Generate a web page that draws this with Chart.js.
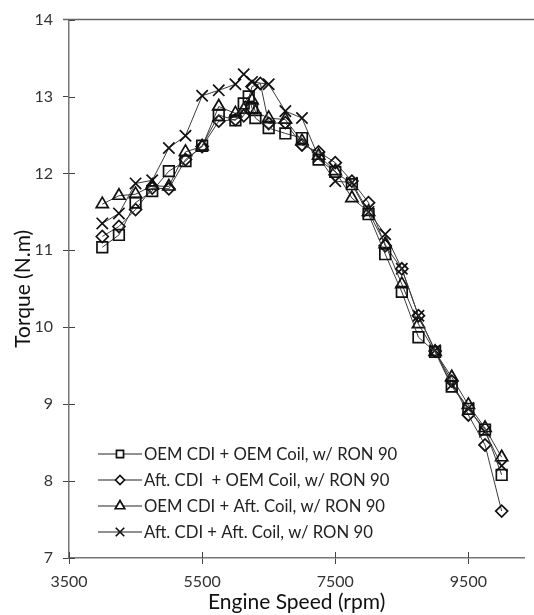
<!DOCTYPE html>
<html lang="en">
<head>
    <meta charset="UTF-8">
    <title>Torque vs Engine Speed</title>
    <script src="https://cdn.jsdelivr.net/npm/chart.js"></script>
    <style>
        html, body { margin: 0; padding: 0; background: #fff; }
        #wrap { width: 534px; height: 615px; }
    </style>
</head>
<body>
    <div id="wrap"><canvas id="torqueChart" width="534" height="615"></canvas></div>

    <script>
        // engine speed (rpm) for each series
        const rpmSquare = [4000, 4250, 4500, 4750, 5000, 5250, 5500, 5750, 6000, 6125, 6200, 6250, 6300, 6500, 6750, 7000, 7250, 7500, 7750, 8000, 8250, 8500, 8750, 9000, 9250, 9500, 9750, 10000];
        const rpmDiamond = [4000, 4250, 4500, 4750, 5000, 5250, 5500, 5750, 6000, 6125, 6250, 6375, 6500, 6750, 7000, 7250, 7500, 7750, 8000, 8250, 8500, 8750, 9000, 9250, 9500, 9750, 10000];
        const rpmTriangle = [4000, 4250, 4500, 4750, 5000, 5250, 5500, 5750, 6000, 6125, 6250, 6300, 6500, 6750, 7000, 7250, 7500, 7750, 8000, 8250, 8500, 8750, 9000, 9250, 9500, 9750, 10000];
        const rpmCross = [4000, 4250, 4500, 4750, 5000, 5250, 5500, 5750, 6000, 6125, 6250, 6500, 6750, 7000, 7250, 7500, 7750, 8000, 8250, 8500, 8750, 9000, 9250, 9500, 9750, 10000];

        // torque (N.m)
        const torqueOemOem = [11.04, 11.20, 11.62, 11.77, 12.03, 12.16, 12.36, 12.76, 12.69, 12.91, 13.00, 12.85, 12.72, 12.59, 12.52, 12.46, 12.18, 12.02, 11.86, 11.47, 10.95, 10.46, 9.87, 9.68, 9.23, 8.94, 8.67, 8.08];
        const torqueAftOem = [11.18, 11.31, 11.53, 11.81, 11.80, 12.18, 12.35, 12.68, 12.70, 12.75, 13.13, 13.17, 12.65, 12.66, 12.37, 12.28, 12.14, 11.90, 11.62, 11.06, 10.76, 10.15, 9.69, 9.30, 8.86, 8.47, 7.61];
        const torqueOemAft = [11.60, 11.71, 11.73, 11.84, 11.83, 12.28, 12.35, 12.87, 12.78, 12.83, 12.95, 12.80, 12.72, 12.70, 12.42, 12.23, 12.03, 11.68, 11.50, 11.08, 10.56, 10.04, 9.68, 9.35, 8.99, 8.69, 8.31];
        const torqueAftAft = [11.35, 11.48, 11.87, 11.91, 12.33, 12.49, 13.01, 13.08, 13.16, 13.29, 13.19, 13.16, 12.81, 12.72, 12.21, 11.90, 11.88, 11.50, 11.21, 10.76, 10.15, 9.70, 9.25, 8.95, 8.64, 8.20];

        const seriesLabels = [
            'OEM CDI + OEM Coil, w/ RON 90',
            'Aft. CDI  + OEM Coil, w/ RON 90',
            'OEM CDI + Aft. Coil, w/ RON 90',
            'Aft. CDI + Aft. Coil, w/ RON 90'
        ];

        const xTicks = [3500, 5500, 7500, 9500];
        const yTicks = [7, 8, 9, 10, 11, 12, 13, 14];

        const FONT = 'Lato, "Open Sans", sans-serif';
        const markStyles = [
            { pointStyle: 'rect', radius: 7.5 },
            { pointStyle: 'rectRot', radius: 6 },
            { pointStyle: 'triangle', radius: 7 },
            { pointStyle: 'crossRot', radius: 8 }
        ];

        function pairs(xs, ys) {
            return xs.map((x, i) => ({ x: x, y: ys[i] }));
        }

        function makeSet(i, xs, ys) {
            return {
                label: seriesLabels[i],
                data: pairs(xs, ys),
                borderColor: '#3c3c3c',
                borderWidth: 1,
                pointStyle: markStyles[i].pointStyle,
                pointRadius: markStyles[i].radius,
                pointBorderColor: '#111',
                pointBackgroundColor: 'rgba(0,0,0,0)',
                pointBorderWidth: 1.7,
                tension: 0
            };
        }

        // ticks that cross the axis, the top rule at 14, and the legend box
        const axisExtras = {
            id: 'axisExtras',
            afterDraw(chart) {
                const ctx = chart.ctx;
                const area = chart.chartArea;
                const xs = chart.scales.x;
                const ys = chart.scales.y;
                ctx.save();
                ctx.strokeStyle = '#444';
                ctx.lineWidth = 1;
                xTicks.forEach(v => {
                    const px = Math.round(xs.getPixelForValue(v)) + 0.5;
                    ctx.beginPath();
                    ctx.moveTo(px, area.bottom);
                    ctx.lineTo(px, area.bottom - 6);
                    ctx.stroke();
                });
                yTicks.forEach(v => {
                    const py = Math.round(ys.getPixelForValue(v)) + 0.5;
                    ctx.beginPath();
                    ctx.moveTo(area.left, py);
                    ctx.lineTo(area.left + 6, py);
                    ctx.stroke();
                });
                ctx.strokeStyle = '#666';
                ctx.lineWidth = 1.5;
                const top = ys.getPixelForValue(14);
                ctx.beginPath();
                ctx.moveTo(area.left - 6, top);
                ctx.lineTo(chart.width, top);
                ctx.stroke();

                // legend: short line with marker, then text
                const rowY = [454, 480, 506, 532];
                ctx.font = '16.7px ' + FONT;
                ctx.textBaseline = 'middle';
                seriesLabels.forEach((t, i) => {
                    const y = rowY[i];
                    ctx.strokeStyle = '#222';
                    ctx.lineWidth = 1;
                    ctx.beginPath();
                    ctx.moveTo(98, y);
                    ctx.lineTo(142, y);
                    ctx.stroke();
                    ctx.fillStyle = '#fff';
                    ctx.strokeStyle = '#111';
                    ctx.lineWidth = 1.7;
                    const r = i === 0 ? 5 : (i === 1 ? 4.5 : (i === 2 ? 5.5 : 6));
                    Chart.helpers.drawPoint(ctx, { pointStyle: markStyles[i].pointStyle, radius: r, rotation: 0, borderWidth: 1.7 }, 120, y);
                    ctx.fillStyle = '#222';
                    ctx.fillText(t, 144, y + 1);
                });
                ctx.restore();
            }
        };

        new Chart(document.getElementById('torqueChart'), {
            type: 'line',
            data: {
                datasets: [
                    makeSet(0, rpmSquare, torqueOemOem),
                    makeSet(1, rpmDiamond, torqueAftOem),
                    makeSet(2, rpmTriangle, torqueOemAft),
                    makeSet(3, rpmCross, torqueAftAft)
                ]
            },
            options: {
                responsive: false,
                animation: false,
                layout: { padding: { top: 16, right: 0, left: 0, bottom: 0 } },
                plugins: {
                    legend: { display: false },
                    tooltip: { enabled: false }
                },
                scales: {
                    x: {
                        type: 'linear',
                        min: 3500,
                        max: 10340,
                        afterBuildTicks: s => { s.ticks = xTicks.map(v => ({ value: v })); },
                        afterFit: s => { s.height = 57; },
                        border: { color: '#777', width: 1.5 },
                        grid: { drawOnChartArea: false, tickLength: 6, color: '#444' },
                        ticks: { color: '#333', font: { family: FONT, size: 16 }, padding: 8, maxRotation: 0, callback: v => String(v) },
                        title: { display: true, text: 'Engine Speed (rpm)', color: '#111', font: { family: FONT, size: 21 }, padding: { top: 0, bottom: 0 } }
                    },
                    y: {
                        min: 7,
                        max: 14,
                        afterBuildTicks: s => { s.ticks = yTicks.map(v => ({ value: v })); },
                        afterFit: s => { s.width = 69; },
                        border: { color: '#777', width: 1.5 },
                        grid: { drawOnChartArea: false, tickLength: 6, color: '#444' },
                        ticks: { color: '#333', font: { family: FONT, size: 16 }, padding: 10, callback: v => String(v) },
                        title: { display: true, text: 'Torque (N.m)', color: '#111', font: { family: FONT, size: 21 }, padding: { top: 11, bottom: 0 } }
                    }
                }
            },
            plugins: [axisExtras]
        });
    </script>
</body>
</html>
